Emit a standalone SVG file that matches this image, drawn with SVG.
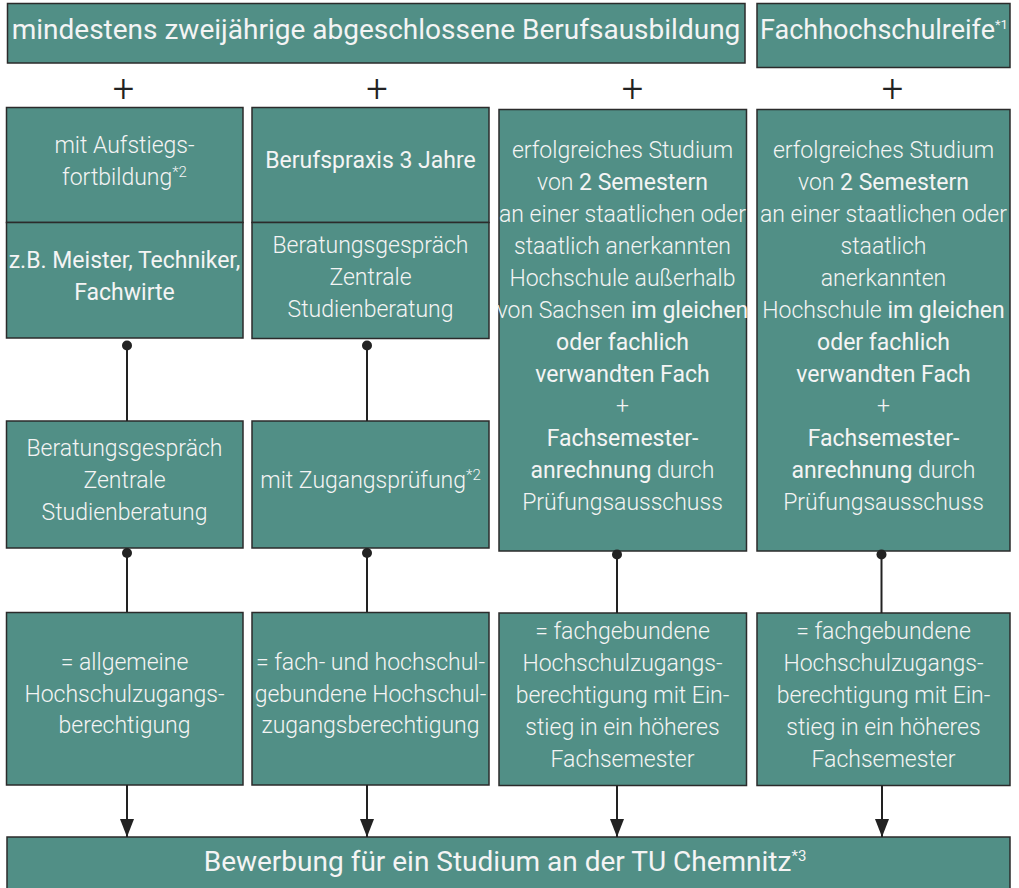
<svg xmlns="http://www.w3.org/2000/svg" width="1019" height="888" viewBox="0 0 1019 888">
<style>
.box{fill:#518f86;stroke:#2b2b2b;stroke-width:1.5}
.t{font-family:Roboto,"Liberation Sans",sans-serif;fill:#f4f4f4;text-anchor:middle;font-size:23px;font-weight:300}
.b{font-weight:400}
.h{font-size:28px;font-weight:400}
.p{font-family:Roboto,"Liberation Sans",sans-serif;fill:#222;text-anchor:middle;font-size:38px;font-weight:300}
.sup{font-size:15px}
.ln{stroke:#222;stroke-width:2;fill:none}
.dot{fill:#222}
</style>
<defs>
<marker id="ah" markerWidth="18" markerHeight="14" refX="18" refY="7" orient="auto" markerUnits="userSpaceOnUse" viewBox="0 0 18 14">
<path d="M0,0 L18,7 L0,14 Z" fill="#222"/>
</marker>
</defs>

<g id="top-ausbildung">
<rect class="box" x="7.5" y="3.5" width="737.5" height="59.5"/>
<text class="t h" x="376" y="38.5">mindestens zweijährige abgeschlossene Berufsausbildung</text>
</g>
<g id="top-fachhochschulreife">
<rect class="box" x="757" y="3.5" width="253" height="64"/>
<text class="t h" x="760" y="39" style="text-anchor:start;font-size:27px"><tspan>Fachhochschulreife</tspan><tspan class="sup" dy="-10" style="font-size:13px">*1</tspan></text>
</g>

<g id="plus-signs">
<text class="p" x="123.5" y="102">+</text>
<text class="p" x="377" y="102">+</text>
<text class="p" x="632.5" y="102">+</text>
<text class="p" x="892.5" y="102">+</text>
</g>

<g id="c1-aufstieg">
<rect class="box" x="6.5" y="107.5" width="236.5" height="115"/>
<text class="t" x="124.5" y="153">mit Aufstiegs-</text>
<text class="t" x="124.5" y="185"><tspan>fortbildung</tspan><tspan class="sup" dy="-8">*2</tspan></text>
</g>
<g id="c1-meister">
<rect class="box" x="6.5" y="222.5" width="236.5" height="115.5"/>
<text class="t b" x="124.5" y="268">z.B. Meister, Techniker,</text>
<text class="t b" x="124.5" y="300">Fachwirte</text>
</g>
<g id="c1-beratung">
<rect class="box" x="6.5" y="421" width="236.5" height="127"/>
<text class="t" x="124.5" y="456">Beratungsgespräch</text>
<text class="t" x="124.5" y="488">Zentrale</text>
<text class="t" x="124.5" y="520">Studienberatung</text>
</g>
<g id="c1-result">
<rect class="box" x="6.5" y="612.5" width="236.5" height="172.5"/>
<text class="t" x="124.5" y="670">= allgemeine</text>
<text class="t" x="124.5" y="702">Hochschulzugangs-</text>
<text class="t" x="124.5" y="733">berechtigung</text>
</g>

<g id="c2-praxis">
<rect class="box" x="252" y="107.5" width="237" height="115"/>
<text class="t b" x="370.5" y="168">Berufspraxis 3 Jahre</text>
</g>
<g id="c2-beratung">
<rect class="box" x="252" y="222.5" width="237" height="116"/>
<text class="t" x="370.5" y="253">Beratungsgespräch</text>
<text class="t" x="370.5" y="285">Zentrale</text>
<text class="t" x="370.5" y="317">Studienberatung</text>
</g>
<g id="c2-pruefung">
<rect class="box" x="252" y="421" width="237" height="127"/>
<text class="t" x="370.5" y="488"><tspan>mit Zugangsprüfung</tspan><tspan class="sup" dy="-8">*2</tspan></text>
</g>
<g id="c2-result">
<rect class="box" x="252" y="612.5" width="237" height="172.5"/>
<text class="t" x="370.5" y="670">= fach- und hochschul-</text>
<text class="t" x="370.5" y="702">gebundene Hochschul-</text>
<text class="t" x="370.5" y="733">zugangsberechtigung</text>
</g>

<g id="c3-studium">
<rect class="box" x="499" y="109.5" width="247.5" height="441.5"/>
<text class="t" x="622.5" y="157.5">erfolgreiches Studium</text>
<text class="t" x="622.5" y="189.5">von <tspan class="b">2 Semestern</tspan></text>
<text class="t" x="622.5" y="221.5">an einer staatlichen oder</text>
<text class="t" x="622.5" y="253.5">staatlich anerkannten</text>
<text class="t" x="622.5" y="285.5">Hochschule außerhalb</text>
<text class="t" x="622.5" y="318">von Sachsen <tspan class="b">im gleichen</tspan></text>
<text class="t b" x="622.5" y="350">oder fachlich</text>
<text class="t b" x="622.5" y="382">verwandten Fach</text>
<text class="t" x="622.5" y="414">+</text>
<text class="t b" x="622.5" y="446">Fachsemester-</text>
<text class="t" x="622.5" y="478"><tspan class="b">anrechnung</tspan> durch</text>
<text class="t" x="622.5" y="510">Prüfungsausschuss</text>
</g>
<g id="c3-result">
<rect class="box" x="499" y="613" width="247.5" height="172.5"/>
<text class="t" x="622.5" y="639">= fachgebundene</text>
<text class="t" x="622.5" y="671">Hochschulzugangs-</text>
<text class="t" x="622.5" y="703">berechtigung mit Ein-</text>
<text class="t" x="622.5" y="735">stieg in ein höheres</text>
<text class="t" x="622.5" y="767">Fachsemester</text>
</g>

<g id="c4-studium">
<rect class="box" x="757" y="109.5" width="253" height="441.5"/>
<text class="t" x="883.5" y="157.5">erfolgreiches Studium</text>
<text class="t" x="883.5" y="189.5">von <tspan class="b">2 Semestern</tspan></text>
<text class="t" x="883.5" y="221.5">an einer staatlichen oder</text>
<text class="t" x="883.5" y="253.5">staatlich</text>
<text class="t" x="883.5" y="285.5">anerkannten</text>
<text class="t" x="883.5" y="318">Hochschule <tspan class="b">im gleichen</tspan></text>
<text class="t b" x="883.5" y="350">oder fachlich</text>
<text class="t b" x="883.5" y="382">verwandten Fach</text>
<text class="t" x="883.5" y="414">+</text>
<text class="t b" x="883.5" y="446">Fachsemester-</text>
<text class="t" x="883.5" y="478"><tspan class="b">anrechnung</tspan> durch</text>
<text class="t" x="883.5" y="510">Prüfungsausschuss</text>
</g>
<g id="c4-result">
<rect class="box" x="757" y="613" width="253" height="172.5"/>
<text class="t" x="883.5" y="639">= fachgebundene</text>
<text class="t" x="883.5" y="671">Hochschulzugangs-</text>
<text class="t" x="883.5" y="703">berechtigung mit Ein-</text>
<text class="t" x="883.5" y="735">stieg in ein höheres</text>
<text class="t" x="883.5" y="767">Fachsemester</text>
</g>

<g id="bewerbung">
<rect class="box" x="7" y="837" width="1003" height="70"/>
<text class="t h" x="505" y="871"><tspan>Bewerbung für ein Studium an der TU Chemnitz</tspan><tspan class="sup" dy="-10">*3</tspan></text>
</g>

<g id="connectors">
<line class="ln" x1="127" y1="345" x2="127" y2="421"/>
<circle class="dot" cx="127" cy="345.5" r="5"/>
<line class="ln" x1="367" y1="345" x2="367" y2="421"/>
<circle class="dot" cx="367" cy="345.5" r="5"/>
<line class="ln" x1="127" y1="553" x2="127" y2="612"/>
<circle class="dot" cx="127" cy="553" r="5"/>
<line class="ln" x1="367" y1="553" x2="367" y2="612"/>
<circle class="dot" cx="367" cy="553" r="5"/>
<line class="ln" x1="617" y1="554" x2="617" y2="613"/>
<circle class="dot" cx="617" cy="554.5" r="5"/>
<line class="ln" x1="881.5" y1="554" x2="881.5" y2="613"/>
<circle class="dot" cx="881.5" cy="554.5" r="5"/>
<line class="ln" x1="127" y1="785" x2="127" y2="837" marker-end="url(#ah)"/>
<line class="ln" x1="367" y1="785" x2="367" y2="837" marker-end="url(#ah)"/>
<line class="ln" x1="617" y1="785.5" x2="617" y2="837" marker-end="url(#ah)"/>
<line class="ln" x1="882" y1="785.5" x2="882" y2="837" marker-end="url(#ah)"/>
</g>
</svg>
